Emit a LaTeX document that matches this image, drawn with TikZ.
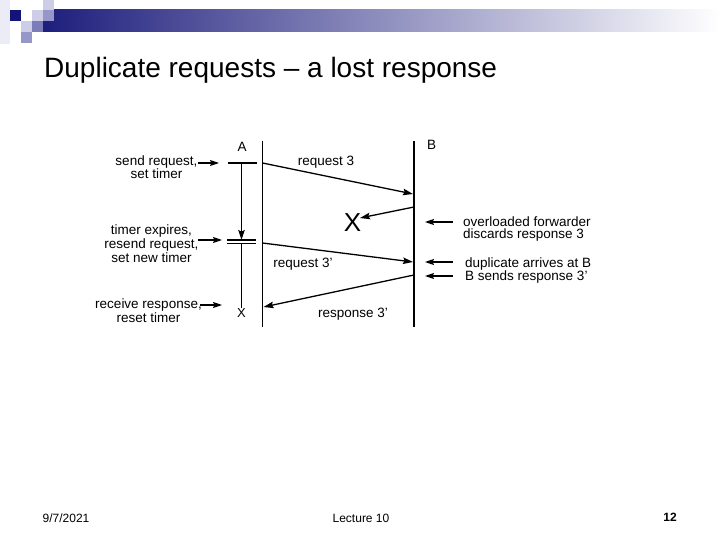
\documentclass[tikz,border=0pt]{standalone}
\usepackage{fontspec}
\setmainfont{Liberation Sans}
\usetikzlibrary{arrows.meta}
\definecolor{navyA}{RGB}{20,20,120}
\definecolor{barL}{RGB}{30,30,125}
\definecolor{lavL}{RGB}{205,205,232}
\definecolor{lavM}{RGB}{150,150,200}
\definecolor{lavF}{RGB}{236,236,246}
\tikzset{
  tline/.style={line width=1.8pt},
  msg/.style={line width=1.3pt,-{Stealth[length=10pt,width=6.5pt,inset=1.5pt]}},
  ptr/.style={line width=1.2pt,-{Stealth[length=9pt,width=6pt,inset=1.5pt]}},
  lbl/.style={inner sep=0pt,font=\fontsize{13.5}{12}\selectfont},
  foot/.style={inner sep=0pt,font=\fontsize{12}{14}\selectfont}
}
\begin{document}
\begin{tikzpicture}[x=1pt,y=-1pt]
\useasboundingbox (0,0) rectangle (720,540);
% header decoration
\fill[lavF] (0,0) rectangle (10,44);
\shade[left color=barL,right color=white] (43,10) rectangle (720,32);
\fill[navyA] (10,10) rectangle (21,21);
\fill[lavL] (43,0) rectangle (54,10);
\fill[lavL] (32,10) rectangle (43,21);
\fill[lavM] (43,10) rectangle (54,21);
\fill[lavL] (21,21) rectangle (32,32);
\fill[lavM!80!navyA] (32,21) rectangle (43,32);
\fill[lavM] (21,32) rectangle (32,43);
% title
\node[inner sep=0pt,anchor=base west,font=\fontsize{28}{32}\selectfont] (title) at (44,78) {Duplicate requests -- a lost response};
% time lines
\coordinate (At) at (262.5,141);
\coordinate (Ab) at (262.5,327);
\coordinate (Bt) at (414,141);
\coordinate (Bb) at (414,327);
\draw[tline] (At) -- (Ab);
\draw[tline] (Bt) -- (Bb);
\node[lbl,anchor=base] (labA) at (242,152) {A};
\node[lbl,anchor=base] (labB) at (431.5,150) {B};
% message points
\coordinate (a1) at (262.5,163);
\coordinate (b1) at (413,194);
\coordinate (b2) at (414,207);
\coordinate (lostend) at (360,218);
\coordinate (a2) at (262.5,243);
\coordinate (b3) at (413,262);
\coordinate (b4) at (414,275);
\coordinate (a3) at (263.5,307);
\draw[msg] (a1) -- (b1);
\draw[msg] (b2) -- (lostend);
\draw[msg] (a2) -- (b3);
\draw[msg] (b4) -- (a3);
\node[lbl,anchor=base] (req3) at (326,166) {request 3};
\node[lbl,anchor=base] (req3p) at (303,267) {request 3’};
\node[lbl,anchor=base] (resp3p) at (353,317) {response 3’};
\node[inner sep=0pt,anchor=base,font=\fontsize{26}{28}\selectfont] (bigX) at (352.5,231.5) {X};
% timer on A side
\coordinate (t1l) at (228,163);
\coordinate (t1r) at (257,163);
\draw[line width=1.3pt] (t1l) -- (t1r);
\coordinate (tv1) at (241.5,163);
\coordinate (tv2) at (241.5,240);
\draw[msg] (tv1) -- (tv2);
\coordinate (d1l) at (227,240);
\coordinate (d1r) at (256,240);
\coordinate (d2l) at (227,243.5);
\coordinate (d2r) at (256,243.5);
\draw[line width=1.1pt] (d1l) -- (d1r);
\draw[line width=1.1pt] (d2l) -- (d2r);
\coordinate (tv3) at (241.5,243.5);
\node[lbl,anchor=base,font=\fontsize{13}{13}\selectfont] (smallX) at (241.5,317) {X};
\draw[line width=1.3pt] (tv3) -- (smallX.north);
% left labels (base anchor = last line's baseline)
\node[lbl,align=center,anchor=base east] (l1) at (197.5,179) {send request,\\set timer};
\node[lbl,align=center,anchor=base east] (l2) at (198.5,262) {timer expires,\\resend request,\\set new timer};
\node[lbl,align=center,anchor=base east] (l3) at (202,322) {receive response,\\reset timer};
\coordinate (p1s) at (198,163);
\coordinate (p1e) at (219,163);
\coordinate (p2s) at (198,240);
\coordinate (p2e) at (222,240);
\coordinate (p3s) at (200,305);
\coordinate (p3e) at (222,305);
\draw[ptr] (p1s) -- (p1e);
\draw[ptr] (p2s) -- (p2e);
\draw[ptr] (p3s) -- (p3e);
% right labels
\node[lbl,align=left,anchor=base west,font=\fontsize{13.5}{12}\selectfont] (r1) at (463,238) {overloaded forwarder\\discards response 3};
\node[lbl,anchor=base west] (r2) at (465,267) {duplicate arrives at B};
\node[lbl,anchor=base west] (r3) at (465,280.5) {B sends response 3’};
\coordinate (q1s) at (453,222);
\coordinate (q1e) at (425,222);
\coordinate (q2s) at (453,262);
\coordinate (q2e) at (425,262);
\coordinate (q3s) at (453,276);
\coordinate (q3e) at (425,276);
\draw[ptr] (q1s) -- (q1e);
\draw[ptr] (q2s) -- (q2e);
\draw[ptr] (q3s) -- (q3e);
% footer
\node[foot,anchor=base] (date) at (66,522) {9/7/2021};
\node[foot,anchor=base] (lect) at (361,522) {Lecture 10};
\node[foot,anchor=base,font=\fontsize{12}{14}\selectfont\bfseries] (pg) at (670,521) {12};
\end{tikzpicture}
\end{document}
